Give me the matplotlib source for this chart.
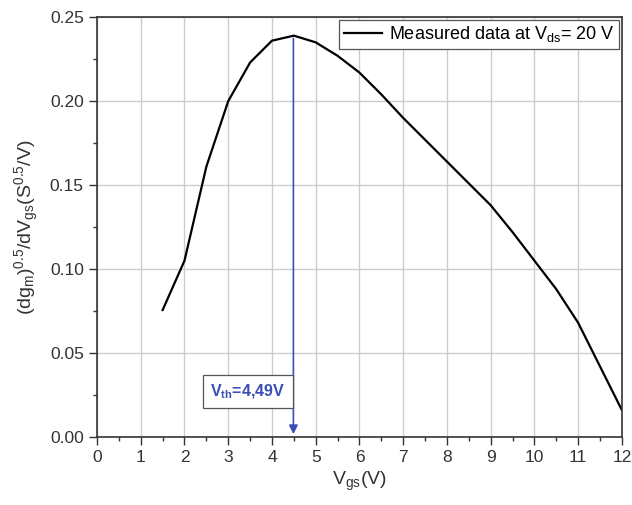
import matplotlib
matplotlib.use('Agg')
import matplotlib.pyplot as plt
import numpy as np

plt.rcParams['font.family'] = ['Liberation Sans', 'DejaVu Sans']
plt.rcParams['mathtext.default'] = 'regular'

# Measured data
vgs = [1.5, 2.0, 2.5, 3.0, 3.5, 4.0, 4.5, 5.0, 5.5, 6.0, 6.5, 7.0,
       7.5, 8.0, 8.5, 9.0, 9.5, 10.0, 10.5, 11.0, 11.5, 12.0]
dgm = [0.0756, 0.105, 0.161, 0.200, 0.223, 0.236, 0.239, 0.235, 0.227, 0.217, 0.204, 0.190,
       0.177, 0.164, 0.151, 0.138, 0.122, 0.105, 0.088, 0.068, 0.042, 0.016]
vth = 4.49
vth_label = 'V$_{th}$=4,49V'

fig = plt.figure(figsize=(6.32, 5.05), dpi=100)
ax = fig.add_axes([0.1535, 0.1347, 0.8305, 0.8313])

ax.plot(vgs, dgm, color='black', lw=1.6, label='Measured data at V$_{ds}$= 20 V')

# Threshold arrow
blue = '#3a4fb5'
ax.annotate('', xy=(vth, 0), xytext=(vth, max(dgm)),
            arrowprops=dict(arrowstyle='-|>', color=blue, lw=1.2, mutation_scale=13))
ax.text(3.45, 0.027, vth_label, color=blue, fontsize=11.5, fontweight='bold',
        ha='center', va='center',
        bbox=dict(boxstyle='square,pad=0.45', fc='white', ec='#555555', lw=0.9))

ax.set_xlim(0, 12)
ax.set_ylim(0, 0.25)
ax.set_xticks(np.arange(0, 13, 1))
ax.set_xticks(np.arange(0, 12.5, 0.5), minor=True)
ax.set_yticks(np.arange(0, 0.26, 0.05))
ax.set_yticks(np.arange(0, 0.26, 0.025), minor=True)
ax.set_yticklabels(['%.2f' % v for v in np.arange(0, 0.26, 0.05)])
ax.grid(True, which='major', color='#cccccc', lw=1.0)
ax.set_axisbelow(True)

ax.tick_params(which='major', direction='out', length=6, width=1, labelsize=12.5, colors='#333333')
ax.tick_params(which='minor', direction='out', length=3, width=1, colors='#333333')
for s in ax.spines.values():
    s.set_color('#333333')
    s.set_linewidth(1.2)

ax.set_xlabel('V$_{gs}$(V)', fontsize=14, color='#333333', labelpad=3)
ax.set_ylabel('(dg$_m$)$^{0.5}$/dV$_{gs}$(S$^{0.5}$/V)', fontsize=14, color='#333333', labelpad=6)

leg = ax.legend(loc='upper right', fontsize=13, fancybox=False, framealpha=1,
                edgecolor='#555555', borderaxespad=0.15, handlelength=2.1,
                borderpad=0.25, handletextpad=0.4)
leg.get_frame().set_linewidth(0.9)

fig.savefig('out.png', dpi=100)
